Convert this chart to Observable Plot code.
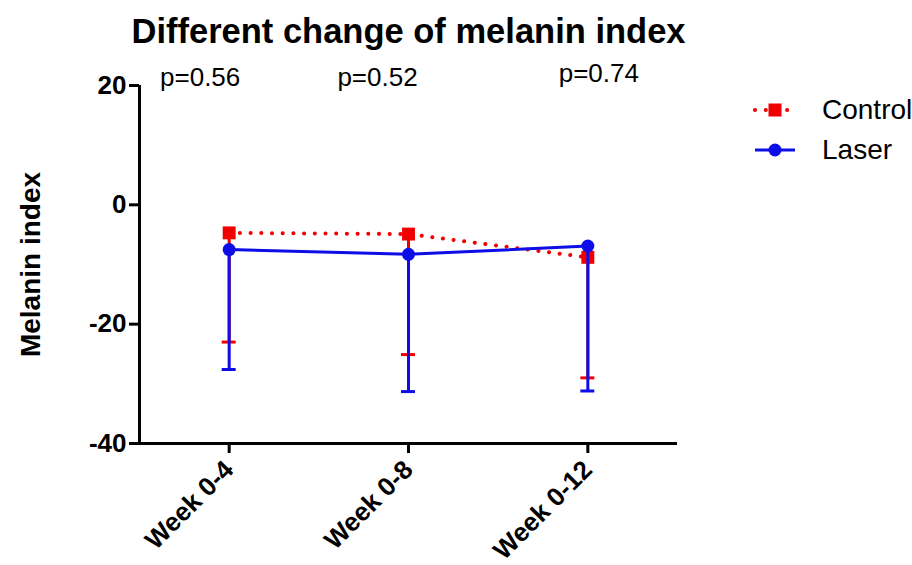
<!DOCTYPE html>
<html>
<head>
<meta charset="utf-8">
<script src="https://cdn.jsdelivr.net/npm/d3@7"></script>
<script src="https://cdn.jsdelivr.net/npm/@observablehq/plot@0.6"></script>
<style>
  html, body { margin: 0; padding: 0; background: #fff; }
  #wrap { position: relative; width: 912px; height: 565px; overflow: hidden; font-family: "Liberation Sans", Arial, sans-serif; }
  #legend { position: absolute; left: 752px; top: 90px; font-size: 28px; color: #000; }
  .item { display: flex; align-items: center; height: 40px; }
  .item svg { margin-right: 24px; }
</style>
</head>
<body>
<div id="wrap">
  <div id="chart"></div>
  <div id="legend"></div>
</div>
<script>
const title = "Different change of melanin index";
const yLabel = "Melanin index";
const categories = ["Week 0-4", "Week 0-8", "Week 0-12"];
const controlMean = [-4.7, -4.9, -8.8];
const controlLower = [-23.0, -25.1, -29.0];
const laserMean = [-7.5, -8.3, -6.9];
const laserLower = [-27.6, -31.3, -31.2];
const pValues = ["p=0.56", "p=0.52", "p=0.74"];
const yTicks = [-40, -20, 0, 20];
const seriesNames = ["Control", "Laser"];

const RED = "#f20000";
const BLUE = "#0d0de8";
const FONT = "Liberation Sans, Arial, sans-serif";

const control = categories.map((c, i) => ({i, mean: controlMean[i], lower: controlLower[i]}));
const laser = categories.map((c, i) => ({i, mean: laserMean[i], lower: laserLower[i]}));
const xDomain = [-0.5, categories.length - 0.5];
const yDomain = [d3.min(yTicks), d3.max(yTicks)];

const pDx = [-29, -31, 11];
const pDy = [-8, -8, -12];

const chart = Plot.plot({
  width: 912,
  height: 565,
  marginLeft: 139,
  marginRight: 235,
  marginTop: 85,
  marginBottom: 122,
  style: {fontFamily: FONT, color: "#000", background: "white", overflow: "visible"},
  x: {domain: xDomain},
  y: {domain: yDomain},
  marks: [
    Plot.axisY({ticks: yTicks, tickFormat: d => String(d), tickSize: 10, tickPadding: 3, strokeWidth: 3, fontSize: 26, fontWeight: "bold", label: null}),
    Plot.axisX({ticks: categories.map((c, i) => i), tickFormat: i => categories[i], tickSize: 10, tickPadding: 12, tickRotate: -45, strokeWidth: 3, fontSize: 26, fontWeight: "bold", label: null}),
    Plot.ruleY([yDomain[0]], {stroke: "black", strokeWidth: 3, insetLeft: -1.5}),
    Plot.ruleX([xDomain[0]], {stroke: "black", strokeWidth: 3}),
    // Control
    Plot.line(control, {x: "i", y: "mean", stroke: RED, strokeWidth: 4, strokeDasharray: "0.1 10.6", strokeLinecap: "round"}),
    Plot.ruleX(control, {x: "i", y1: "mean", y2: "lower", stroke: RED, strokeWidth: 3}),
    Plot.ruleY(control, {y: "lower", x1: "i", x2: "i", insetLeft: -7, insetRight: -7, stroke: RED, strokeWidth: 3}),
    Plot.dot(control, {x: "i", y: "mean", symbol: "square", r: 7.3, fill: RED, stroke: "none"}),
    // Laser
    Plot.ruleX(laser, {x: "i", y1: "mean", y2: "lower", stroke: BLUE, strokeWidth: 3}),
    Plot.ruleY(laser, {y: "lower", x1: "i", x2: "i", insetLeft: -7, insetRight: -7, stroke: BLUE, strokeWidth: 3}),
    Plot.line(laser, {x: "i", y: "mean", stroke: BLUE, strokeWidth: 3}),
    Plot.dot(laser, {x: "i", y: "mean", r: 6.5, fill: BLUE, stroke: "none"}),
    // p values
    ...pValues.map((p, i) => Plot.text([p], {x: () => i, y: yDomain[1], text: d => d, dx: pDx[i], dy: pDy[i], fontSize: 26, fill: "black"})),
    // title and y label
    Plot.text([title], {frameAnchor: "top", lineAnchor: "middle", dy: -54, fontSize: 34.5, fontWeight: "bold", fill: "black"}),
    Plot.text([yLabel], {frameAnchor: "left", textAnchor: "middle", rotate: -90, dx: -108, fontSize: 28, fontWeight: "bold", fill: "black"})
  ]
});
document.getElementById("chart").appendChild(chart);

// Legend
const legend = document.getElementById("legend");
const swatches = [
  `<svg width="46" height="20"><line x1="3" y1="10" x2="43" y2="10" stroke="${RED}" stroke-width="4" stroke-dasharray="0.1 10.6" stroke-linecap="round"/><rect x="16.5" y="3.5" width="13" height="13" fill="${RED}"/></svg>`,
  `<svg width="46" height="20"><line x1="3" y1="10" x2="43" y2="10" stroke="${BLUE}" stroke-width="3"/><circle cx="23" cy="10" r="6.5" fill="${BLUE}"/></svg>`
];
seriesNames.forEach((name, i) => {
  const div = document.createElement("div");
  div.className = "item";
  div.innerHTML = swatches[i] + `<span>${name}</span>`;
  legend.appendChild(div);
});
</script>
</body>
</html>
